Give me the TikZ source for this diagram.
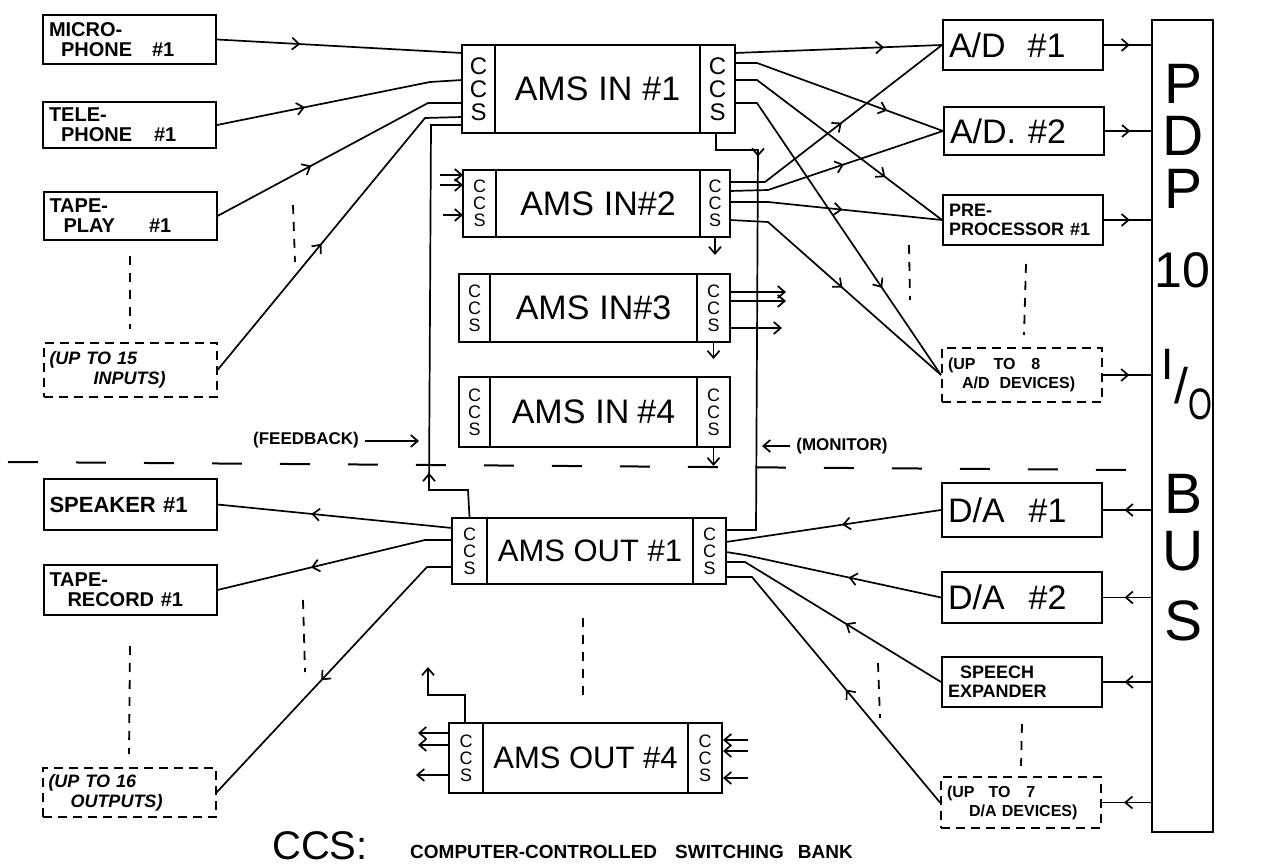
\documentclass[tikz,border=0pt]{standalone}
\usepackage{fontspec}
\setmainfont{Liberation Sans}
\usetikzlibrary{arrows.meta,decorations.markings}
\begin{document}
\begin{tikzpicture}[x=1pt,y=-1pt,
  >={Straight Barb[length=7pt,width=12pt]},
  every node/.style={inner sep=0pt},
  frame/.style={draw,line width=2pt},
  ln/.style={line width=1.7pt},
  mid/.style={postaction={decorate,decoration={markings,mark=at position #1 with {\arrow{>}}}}},
  lbox/.style={frame,inner sep=6pt,minimum width=173pt,minimum height=49pt,text width=161pt,align=left,font=\bfseries\fontsize{20}{20}\selectfont},
  rbox/.style={frame,inner sep=6pt,minimum width=160pt,minimum height=50pt,text width=148pt,align=left,font=\bfseries\fontsize{18}{19}\selectfont},
  big/.style={font=\fontsize{34}{34}\selectfont},
  dbox/.style={dash pattern=on 9pt off 6pt},
  ccs/.style={frame,align=center,font=\fontsize{18}{17}\selectfont},
  body/.style={frame,font=\fontsize{34}{34}\selectfont},
  dots/.style={line width=1.8pt,dash pattern=on 9pt off 8pt},
  bus/.style={font=\fontsize{57}{57}\selectfont},
  lbl/.style={font=\bfseries\fontsize{17}{17}\selectfont},
]
\useasboundingbox (0,0) rectangle (1262,866);
\fill[white] (0,0) rectangle (1262,866);

% ---------- left boxes ----------
\node[lbox] (mic) at (129.5,39.5) {MICRO-\\\hspace*{12pt}PHONE\hspace{20pt}\#1};
\node[lbox,minimum height=46pt] (tel) at (129.5,125) {TELE-\\\hspace*{12pt}PHONE\hspace{22pt}\#1};
\node[lbox,minimum height=48pt] (tape) at (130,216) {TAPE-\\\hspace*{14pt}PLAY\hspace{34pt}\#1};
\node[lbox,dbox,minimum height=54pt,font=\bfseries\itshape\fontsize{18}{20}\selectfont] (up15) at (130,370) {(UP TO 15\\\hspace*{44pt}INPUTS)};
\node[lbox,minimum height=51pt,font=\bfseries\fontsize{22}{22}\selectfont] (spk) at (130,504.5) {SPEAKER \#1};
\node[lbox,minimum height=50pt] (rec) at (130,590) {TAPE-\\\hspace*{18pt}RECORD \#1};
\node[lbox,dbox,minimum height=49pt,font=\bfseries\itshape\fontsize{18}{20}\selectfont] (up16) at (129,792.5) {(UP TO 16\\\hspace*{22pt}OUTPUTS)};

% ---------- right boxes ----------
\node[rbox,big] (ad1) at (1023,45) {A/D\hspace{22pt}\#1};
\node[rbox,big,minimum height=48pt] (ad2) at (1024,131) {A/D.\hspace{12pt}\#2};
\node[rbox] (pre) at (1023,220) {PRE-\\PROCESSOR \#1};
\node[rbox,dbox,minimum height=54pt,font=\bfseries\fontsize{16}{19}\selectfont] (up8) at (1022,375) {(UP\hspace{18pt}TO\hspace{16pt}8\\\hspace*{14pt}A/D\hspace{10pt}DEVICES)};
\node[rbox,big,minimum height=54pt] (da1) at (1022,510) {D/A\hspace{24pt}\#1};
\node[rbox,big,minimum height=51pt] (da2) at (1022,597.5) {D/A\hspace{24pt}\#2};
\node[rbox] (spx) at (1022,682) {\hspace*{12pt}SPEECH\\EXPANDER};
\node[rbox,dbox,minimum height=51pt,font=\bfseries\fontsize{16}{19}\selectfont] (up7) at (1021,802.5) {(UP\hspace{14pt}TO\hspace{16pt}7\\\hspace*{22pt}D/A DEVICES)};

% ---------- PDP-10 I/O bus ----------
\node[frame,minimum width=61pt,minimum height=812pt] (pdp) at (1182.5,426) {};
\node[bus] (bP1) at (1183,84) {P};
\node[bus] (bD) at (1183,136) {D};
\node[bus] (bP2) at (1183,189) {P};
\node[font=\fontsize{50}{50}\selectfont] (b10) at (1182,270) {10};
\node[font=\fontsize{44}{44}\selectfont] (bI) at (1168,364) {I};
\node[font=\fontsize{50}{50}\selectfont] (bsl) at (1181,386) {/};
\node[font=\fontsize{44}{44}\selectfont,xscale=0.7] (bO) at (1200,404) {O};
\node[bus] (bB) at (1183,494) {B};
\node[bus] (bU) at (1183,551) {U};
\node[bus] (bS) at (1183,621) {S};

% ---------- AMS IN #1 ----------
\node[ccs,minimum width=33pt,minimum height=88pt,font=\fontsize{24}{23}\selectfont] (in1L) at (478.5,89) {C\\C\\S};
\node[body,minimum width=205pt,minimum height=88pt] (in1) at (597.5,89) {AMS\hspace{10pt}IN\hspace{10pt}\#1};
\node[ccs,minimum width=35pt,minimum height=88pt,font=\fontsize{24}{23}\selectfont] (in1R) at (717.5,89) {C\\C\\S};
% ---------- AMS IN #2 ----------
\node[ccs,minimum width=33pt,minimum height=67pt] (in2L) at (479.5,203.5) {C\\C\\S};
\node[body,minimum width=204pt,minimum height=67pt] (in2) at (598,203.5) {AMS\hspace{10pt}IN\#2};
\node[ccs,minimum width=30pt,minimum height=67pt] (in2R) at (715,203.5) {C\\C\\S};
% ---------- AMS IN #3 ----------
\node[ccs,minimum width=31pt,minimum height=68pt] (in3L) at (474.5,308) {C\\C\\S};
\node[body,minimum width=207pt,minimum height=68pt] (in3) at (593.5,308) {AMS\hspace{10pt}IN\#3};
\node[ccs,minimum width=33pt,minimum height=68pt] (in3R) at (713.5,308) {C\\C\\S};
% ---------- AMS IN #4 ----------
\node[ccs,minimum width=31pt,minimum height=70pt] (in4L) at (474.5,412) {C\\C\\S};
\node[body,minimum width=207pt,minimum height=70pt] (in4) at (593.5,412) {AMS\hspace{10pt}IN\hspace{8pt}\#4};
\node[ccs,minimum width=33pt,minimum height=70pt] (in4R) at (713.5,412) {C\\C\\S};
% ---------- AMS OUT #1 ----------
\node[ccs,minimum width=35pt,minimum height=66pt] (o1L) at (469.5,551) {C\\C\\S};
\node[body,minimum width=206pt,minimum height=66pt,font=\fontsize{31}{31}\selectfont] (o1) at (590,551) {AMS OUT \#1};
\node[ccs,minimum width=33pt,minimum height=66pt] (o1R) at (709.5,551) {C\\C\\S};
% ---------- AMS OUT #4 ----------
\node[ccs,minimum width=34pt,minimum height=70pt] (o4L) at (466,758) {C\\C\\S};
\node[body,minimum width=205pt,minimum height=70pt,font=\fontsize{31}{31}\selectfont] (o4) at (585.5,758) {AMS OUT \#4};
\node[ccs,minimum width=34pt,minimum height=70pt] (o4R) at (705,758) {C\\C\\S};

% ---------- ports ----------
\coordinate (i1a) at (462,53);
\coordinate (i1b) at (462,80);
\coordinate (i1c) at (462,103);
\coordinate (i1d) at (462,117);
\coordinate (i1e) at (462,125);
\coordinate (r1a) at (735,53);
\coordinate (r1b) at (735,63);
\coordinate (r1c) at (735,80);
\coordinate (r1d) at (735,103);
\coordinate (r2a) at (730,182);
\coordinate (r2b) at (730,191);
\coordinate (r2c) at (730,202);
\coordinate (r2d) at (730,220);
\coordinate (l2a) at (463,175);
\coordinate (l2b) at (463,185);
\coordinate (l2c) at (463,215);
\coordinate (ol1a) at (452,528);
\coordinate (ol1b) at (452,540);
\coordinate (ol1c) at (452,567);
\coordinate (or1m) at (726,530);
\coordinate (or1a) at (726,542);
\coordinate (or1b) at (726,552);
\coordinate (or1c) at (726,562);
\coordinate (or1d) at (726,577);

% ---------- inputs to AMS IN #1 ----------
\draw[ln,mid=.34] (mic.east) -- (i1a);
\draw[ln,mid=.36] (tel.east) -- (430,82) -- (i1b);
\draw[ln,mid=.39] (tape.east) -- (428,103) -- (i1c);
\draw[ln,mid=.45] (up15.east) -- (425,118) -- (i1d);

% ---------- AMS IN #1 outputs ----------
\draw[ln,mid=.72] (r1a) -- (ad1.west);
\draw[ln,mid=.73] (r1b) -- (757,63) -- (ad2.west);
\draw[ln,mid=.72] (r1c) -- (757,80) -- (pre.west);
\draw[ln,mid=.70] (r1d) -- (757,103) -- (up8.west);
% ---------- AMS IN #2 outputs ----------
\draw[ln,mid=.51] (r2a) -- (765,182) -- (ad1.west);
\draw[ln,mid=.53] (r2b) -- (768,190) -- (ad2.west);
\draw[ln,mid=.53] (r2c) -- (768,202) -- (pre.west);
\draw[ln,mid=.51] (r2d) -- (768,222) -- (up8.west);
% AMS IN #2 inputs
\draw[ln,->] (440,175) -- (l2a);
\draw[ln,->] (440,185) -- (l2b);
\draw[ln,->] (443,215) -- (l2c);
% short stubs
\draw[ln,->] (in2R.south) -- ++(0,17);
\draw[ln,->] (in3R.south) -- ++(0,16);
\draw[ln,->] (in4R.south) -- ++(0,18);
\draw[ln,->] (730,292) -- (786,292);
\draw[ln,->] (730,301) -- (786,301);
\draw[ln,->] (730,328) -- (782,328);

% ---------- to / from the bus ----------
\draw[ln,mid=.55] (ad1.east) -- (ad1.east -| pdp.west);
\draw[ln,mid=.55] (ad2.east) -- (ad2.east -| pdp.west);
\draw[ln,mid=.55] (pre.east) -- (pre.east -| pdp.west);
\draw[ln,mid=.55] (up8.east) -- (up8.east -| pdp.west);
\draw[ln,mid=.55] (da1.east -| pdp.west) -- (da1.east);
\draw[ln,mid=.55] (da2.east -| pdp.west) -- (da2.east);
\draw[ln,mid=.55] (spx.east -| pdp.west) -- (spx.east);
\draw[ln,mid=.55] (up7.east -| pdp.west) -- (up7.east);

% ---------- AMS OUT #1 ----------
\draw[ln,mid=.6] (ol1a) -- (spk.east);
\draw[ln,mid=.6] (ol1b) -- (425,540) -- (rec.east);
\draw[ln,mid=.54] (ol1c) -- (427,567) -- (up16.east);
\draw[ln,mid=.46] (da1.west) -- (or1a);
\draw[ln,mid=.43] (da2.west) -- (745,555) -- (or1b);
\draw[ln,mid=.45] (spx.west) -- (745,562) -- (or1c);
\draw[ln,mid=.46] (up7.west) -- (752,577) -- (or1d);

% feedback and monitor paths
\draw[ln,mid=.18] (o1L.north) -- (468,490) -- (429,490) -- (431,125) -- (i1e);
\draw[ln,mid=.14] (716,133) -- (716,150) -- (758,150) -- (756,530) -- (or1m);

% ---------- AMS OUT #4 ----------
\draw[ln,->] (o4L.west |- 0,733) -- (418,733);
\draw[ln,->] (o4L.west |- 0,745) -- (418,745);
\draw[ln,->] (o4L.west |- 0,775) -- (416,775);
\draw[ln,->] (465,723) -- (465,695) -- (428,695) -- (428,667);
\draw[ln,->] (748,740) -- (o4R.east |- 0,740);
\draw[ln,->] (748,751) -- (o4R.east |- 0,751);
\draw[ln,->] (748,778) -- (o4R.east |- 0,778);

% ---------- labels ----------
\node[lbl] (fb) at (306,440) {(FEEDBACK)};
\coordinate (fbend) at (419,441);
\draw[ln,->] (fb.east) ++(6,1) -- (fbend);
\node[lbl] (mon) at (842,446) {(MONITOR)};
\coordinate (monend) at (762,446);
\draw[ln,->] (mon.west) ++(-6,0) -- (monend);

% ---------- divider and ellipsis marks ----------
\draw[line width=2pt,dash pattern=on 30pt off 38pt] (8,462) -- (1128,470);
\draw[dots] ([yshift=-15pt]tape.south) -- ([yshift=13pt]up15.north);
\draw[dots] (293,205) -- (295,262);
\draw[dots] (1026,264) -- (1024,335);
\draw[dots] (909,245) -- (910,300);
\draw[dots] ([yshift=-30pt]rec.south) -- ([yshift=13pt]up16.north);
\draw[dots] (303,600) -- (305,672);
\draw[dots] (583,618) -- (583,700);
\draw[dots] (878,663) -- (880,718);
\draw[dots] ([yshift=-16pt]spx.south) -- ([yshift=10pt]up7.north);

% ---------- caption ----------
\node[font=\fontsize{40}{40}\selectfont] (ccscap) at (320,846) {CCS:};
\node[font=\bfseries\fontsize{19}{19}\selectfont,anchor=west] (ccstext) at (410,852) {COMPUTER-CONTROLLED\hspace{18pt}SWITCHING\hspace{14pt}BANK};
\end{tikzpicture}
\end{document}
